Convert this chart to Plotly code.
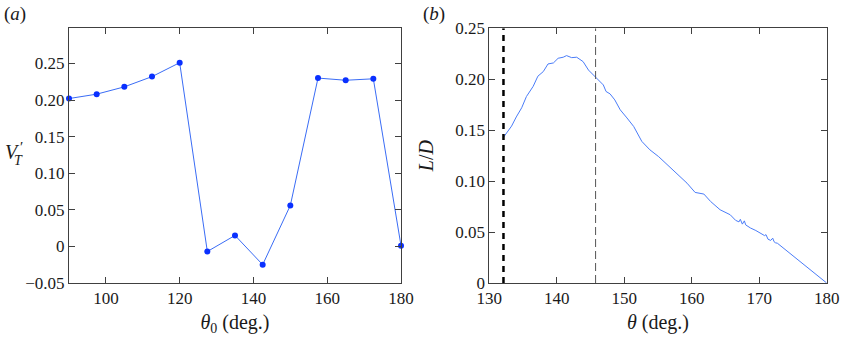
import plotly.graph_objects as go

# Panel (a)
theta0 = [90, 97.5, 105, 112.5, 120, 127.5, 135, 142.5, 150, 157.5, 165, 172.5, 180]
vt = [0.202, 0.208, 0.218, 0.232, 0.251, -0.007, 0.015, -0.025, 0.056, 0.230, 0.227, 0.229, 0.001]

# Panel (b)
theta = [132.1, 132.6, 133.3, 134.0, 134.8, 135.5, 136.5, 137.2, 138.0, 138.7, 139.5, 140.2,
         140.95, 141.45, 142.2, 142.95, 143.9, 144.7, 145.75, 146.9, 147.3, 147.9, 148.6, 149.4,
         150.4, 151.4, 152.6, 153.8, 155.1, 156.3, 157.8, 159.3, 160.5, 161.5, 161.8, 162.8,
         164.2, 165.7, 166.5, 167.0, 167.2, 167.5, 167.8, 168.0, 168.7, 169.5, 170.2, 170.8,
         171.0, 171.3, 171.7, 172.0, 172.2, 172.4, 172.7, 180.0]
ld = [0.143, 0.148, 0.154, 0.163, 0.172, 0.183, 0.193, 0.203, 0.2075, 0.215, 0.216, 0.2206,
      0.2216, 0.2232, 0.2212, 0.2216, 0.2173, 0.209, 0.2016, 0.1944, 0.1880, 0.1856, 0.1797, 0.170,
      0.162, 0.1536, 0.139, 0.1307, 0.124, 0.1167, 0.108, 0.098, 0.0889, 0.0878, 0.0873, 0.080,
      0.0719, 0.067, 0.0615, 0.0600, 0.0625, 0.0578, 0.0610, 0.0570, 0.0540, 0.0515, 0.049, 0.0465,
      0.0475, 0.0430, 0.0418, 0.0440, 0.0405, 0.0395, 0.039, 0.0]

dash_thick_x = 132.1
dash_thin_x = 145.75

axcol = "#404040"
FAM = "Times New Roman, Liberation Serif, serif"
font = dict(family=FAM, size=17, color="#1a1a1a")

fig = go.Figure()
fig.add_trace(go.Scatter(x=theta0, y=vt, mode="lines+markers",
                         line=dict(color="#3a6cf5", width=1),
                         marker=dict(color="#0a30ff", size=6),
                         cliponaxis=False,
                         xaxis="x", yaxis="y", showlegend=False))
fig.add_trace(go.Scatter(x=theta, y=ld, mode="lines",
                         line=dict(color="#4a7cf8", width=1),
                         xaxis="x2", yaxis="y2", showlegend=False))
fig.add_trace(go.Scatter(x=[dash_thick_x, dash_thick_x], y=[0, 0.25], mode="lines",
                         line=dict(color="black", width=2.5, dash="6px,5px"),
                         xaxis="x2", yaxis="y2", showlegend=False))
fig.add_trace(go.Scatter(x=[dash_thin_x, dash_thin_x], y=[0, 0.25], mode="lines",
                         line=dict(color="#555555", width=1, dash="8px,4px"),
                         xaxis="x2", yaxis="y2", showlegend=False))

common = dict(showgrid=False, zeroline=False, showline=True, linecolor=axcol, linewidth=1,
              mirror="ticks", ticks="inside", ticklen=6, tickcolor=axcol,
              tickfont=font, automargin=False)

title_font = dict(family=FAM, size=20, color="#1a1a1a")

fig.update_layout(
    width=841, height=342,
    margin=dict(l=0, r=0, t=0, b=0, autoexpand=False),
    paper_bgcolor="white", plot_bgcolor="white",
    font=font,
    xaxis=dict(domain=[69/841, 401/841], range=[90, 180], tickvals=[100, 120, 140, 160, 180],
               anchor="y",
               title=dict(text="<i>θ</i><sub>0</sub> (deg.)", font=title_font, standoff=7), **common),
    yaxis=dict(domain=[1-283/342, 1-28.3/342], range=[-0.05, 0.298],
               tickvals=[-0.05, 0, 0.05, 0.10, 0.15, 0.20, 0.25],
               ticktext=["−0.05", "0", "0.05", "0.10", "0.15", "0.20", "0.25"],
               anchor="x", **common),
    xaxis2=dict(domain=[489.3/841, 826.7/841], range=[130, 180], tickvals=[130, 140, 150, 160, 170, 180],
                anchor="y2",
                title=dict(text="<i>θ</i> (deg.)", font=title_font, standoff=7), **common),
    yaxis2=dict(domain=[1-283/342, 1-28.3/342], range=[0, 0.25],
                tickvals=[0, 0.05, 0.10, 0.15, 0.20, 0.25],
                ticktext=["0", "0.05", "0.10", "0.15", "0.20", "0.25"],
                anchor="x2",
                title=dict(text="<i>L</i>/<i>D</i>", font=title_font, standoff=16), **common),
    annotations=[
        dict(text="(<i>a</i>)", x=2/841, y=1-14/342, xref="paper", yref="paper",
             xanchor="left", yanchor="middle", showarrow=False, font=dict(family=FAM, size=19)),
        dict(text="(<i>b</i>)", x=421/841, y=1-14/342, xref="paper", yref="paper",
             xanchor="left", yanchor="middle", showarrow=False, font=dict(family=FAM, size=19)),
        dict(text="<i>V</i>", x=3/841, y=1-152/342, xref="paper", yref="paper",
             xanchor="left", yanchor="middle", showarrow=False, font=dict(family=FAM, size=20)),
        dict(text="′", x=18/841, y=1-147/342, xref="paper", yref="paper",
             xanchor="left", yanchor="middle", showarrow=False, font=dict(family=FAM, size=15)),
        dict(text="<i>T</i>", x=12/841, y=1-160/342, xref="paper", yref="paper",
             xanchor="left", yanchor="middle", showarrow=False, font=dict(family=FAM, size=14)),
    ],
)

fig.write_html("out.html")
